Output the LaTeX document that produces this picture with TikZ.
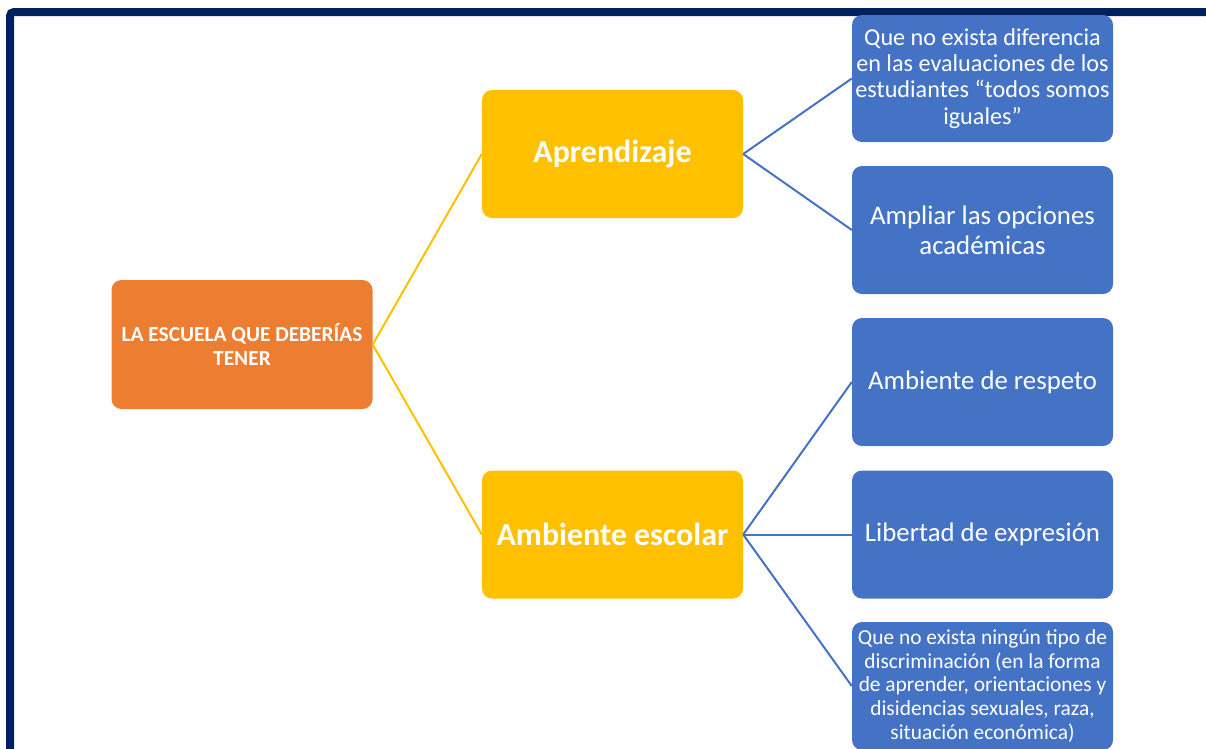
\documentclass[tikz,border=0pt]{standalone}
\usepackage{fontspec}
\setmainfont{Carlito}
\definecolor{navy}{HTML}{002060}
\definecolor{orng}{HTML}{ED7D31}
\definecolor{gold}{HTML}{FFC000}
\definecolor{blu}{HTML}{4472C4}
\begin{document}
\begin{tikzpicture}[x=1pt,y=-1pt,
  box/.style={rounded corners=10pt, align=center, text=white, inner sep=0pt, minimum width=261pt},
  rootbox/.style={box, fill=orng, minimum height=129pt, font=\bfseries\fontsize{21.4}{24}\selectfont},
  midbox/.style={box, fill=gold, minimum height=128pt, font=\bfseries\fontsize{32}{38}\selectfont},
  leafbox/.style={box, fill=blu, minimum height=128pt, font=\fontsize{26.8}{30}\selectfont},
  denseleaf/.style={leafbox, font=\fontsize{24.2}{26.3}\selectfont},
  smallleaf/.style={leafbox, font=\fontsize{21.4}{23.8}\selectfont},
  ylink/.style={draw=gold, line width=2pt},
  blink/.style={draw=blu, line width=2pt}]
\useasboundingbox (0,0) rectangle (1206,748);
\clip (0,0) rectangle (1206,748);
\draw[navy, line width=8pt, rounded corners=4pt] (10,12) rectangle (1240,790);
\node[rootbox] (root) at (242,344.5) {LA ESCUELA QUE DEBERÍAS\\TENER};
\node[midbox] (apr) at (612.5,154) {Aprendizaje};
\node[midbox] (amb) at (612.5,534.5) {Ambiente escolar};
\node[denseleaf, minimum height=127pt] (l1) at (982.5,78.5) {Que no exista diferencia\\en las evaluaciones de los\\estudiantes “todos somos\\iguales”};
\node[leafbox] (l2) at (982.5,230) {Ampliar las opciones\\académicas};
\node[leafbox] (l3) at (982.5,382) {Ambiente de respeto};
\node[leafbox] (l4) at (982.5,534.5) {Libertad de expresión};
\node[smallleaf] (l5) at (982.5,686) {Que no exista ningún tipo de\\discriminación (en la forma\\de aprender, orientaciones y\\disidencias sexuales, raza,\\situación económica)};
\draw[ylink] (root.east) -- (apr.west);
\draw[ylink] (root.east) -- (amb.west);
\draw[blink] (apr.east) -- (l1.west);
\draw[blink] (apr.east) -- (l2.west);
\draw[blink] (amb.east) -- (l3.west);
\draw[blink] (amb.east) -- (l4.west);
\draw[blink] (amb.east) -- (l5.west);
\end{tikzpicture}
\end{document}
